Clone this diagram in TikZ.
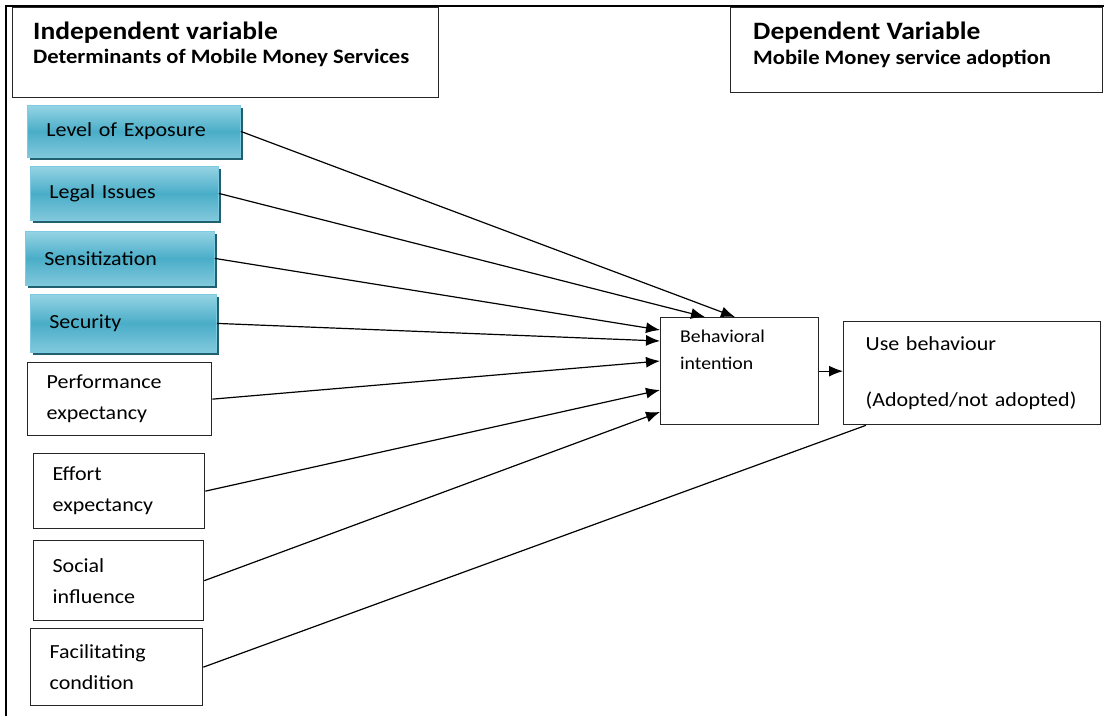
\documentclass[tikz,border=0pt]{standalone}
\usepackage{fontspec}
\setmainfont{Carlito}[FakeStretch=1.1]
\usetikzlibrary{positioning,shadows,arrows.meta}

\definecolor{factortop}{HTML}{95D4E4}
\definecolor{factormid}{HTML}{4AADC8}
\definecolor{factorbot}{HTML}{82C9DC}
\definecolor{factorrim}{HTML}{7CCBE0}
\definecolor{factorshade}{HTML}{22606F}

\begin{document}
\begin{tikzpicture}[x=1pt, y=-1pt,
	factor/.style={rectangle, anchor=north west, draw=factorrim, line width=0.8pt, top color=factortop, bottom color=factorbot, middle color=factormid, drop shadow={shadow xshift=3pt, shadow yshift=-3pt, fill=factorshade, opacity=1}, inner xsep=19pt, align=left, font=\fontsize{20}{24}\selectfont},
	main/.style={rectangle, anchor=north west, draw=black!85, line width=1.3pt, inner xsep=19pt, align=left, font=\fontsize{20}{31}\selectfont},
	head/.style={rectangle, anchor=north west, draw=black!85, line width=1.3pt},
	title/.style={inner sep=0pt, font=\bfseries\fontsize{25}{30}\selectfont},
	subtitle/.style={inner sep=0pt, font=\bfseries\fontsize{20.5}{24}\selectfont},
	note/.style={inner sep=0pt, align=left, font=\fontsize{18}{27}\selectfont},
	link/.style={line width=1.2pt, -{Latex[length=14pt,width=11pt]}}
	]
	\useasboundingbox (0,0) rectangle (1104,716);

	% frame
	\draw [line width=2pt] (6,716) -- (6,6) -- (1104,6);

	% headings
	\node (indep) [head, minimum width=426pt, minimum height=90pt] at (12,7) {};
		\node (indeptitle) [title, below right=15pt and 21pt of indep.north west] {Independent variable};
		\node (indepsub) [subtitle, below right=42pt and 21pt of indep.north west] {Determinants of Mobile Money Services};
	\node (dep) [head, minimum width=372pt, minimum height=85pt] at (730,7) {};
		\node (deptitle) [title, below right=15pt and 23pt of dep.north west] {Dependent Variable};
		\node (depsub) [subtitle, below right=43pt and 23pt of dep.north west] {Mobile Money service adoption};

	% determinants
	\node (exposure) [factor, text width=175pt, minimum height=52pt] at (27,105) {Level of Exposure};
	\node (legal) [factor, text width=150pt, minimum height=54pt] at (30,166) {Legal Issues};
	\node (sensitization) [factor, text width=151pt, minimum height=54pt] at (25,231) {Sensitization};
	\node (security) [factor, text width=148pt, minimum height=58pt] at (30,294) {Security};
	\node (performance) [main, text width=146pt, minimum height=73pt] at (27,362) {Performance\\expectancy};
	\node (effort) [main, text width=133pt, minimum height=75pt] at (33,453) {Effort\\expectancy};
	\node (social) [main, text width=132pt, minimum height=80pt] at (33,540) {Social\\influence};
	\node (facilitating) [main, text width=134pt, minimum height=77pt] at (30,628) {Facilitating\\condition};

	% adoption
	\node (intention) [main, minimum width=158pt, minimum height=107pt] at (660,317) {};
		\node (intentiontext) [note, below right=13pt and 20pt of intention.north west] {Behavioral\\intention};
	\node (usage) [main, inner xsep=22pt, text width=213pt, minimum height=103pt, font=\fontsize{20}{56}\selectfont] at (843,321) {Use behaviour\\(Adopted/not adopted)};

	\draw [link] (exposure.east) -- ([xshift=75pt]intention.north west);
	\draw [link] (legal.east) -- ([xshift=45pt]intention.north west);
	\draw [link] (sensitization.east) -- ([yshift=-13pt]intention.north west);
	\draw [link] (security.east) -- ([yshift=-24pt]intention.north west);
	\draw [link] (performance.east) -- ([yshift=-44pt]intention.north west);
	\draw [link] (effort.east) -- ([yshift=-73pt]intention.north west);
	\draw [link] (social.east) -- ([yshift=-95pt]intention.north west);

	\draw [link] (intention.east) -- (intention.east -| usage.west);
	\draw [line width=1.2pt] (facilitating.east) -- ([xshift=23pt]usage.south west);

\end{tikzpicture}
\end{document}
